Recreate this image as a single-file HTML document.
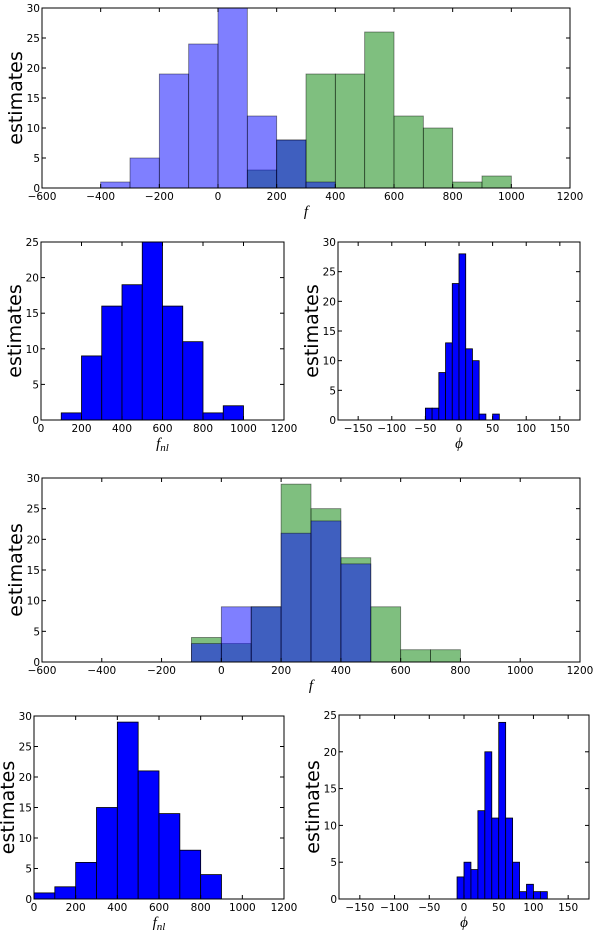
<!DOCTYPE html>
<html><head><meta charset="utf-8"><style>
html,body{margin:0;padding:0;background:#fff;}
svg{display:block;font-family:"DejaVu Sans","Liberation Sans",sans-serif;}
</style></head><body>
<svg id="fig" width="600" height="936" viewBox="0 0 600 936" xmlns="http://www.w3.org/2000/svg"></svg>
<script>
// Panel 1 data (bins of 100)
const p1BlueStarts = [-400,-300,-200,-100,0,100,200,300];
const p1BlueCounts = [1,5,19,24,30,12,8,1];
const p1GreenStarts = [100,200,300,400,500,600,700,800,900];
const p1GreenCounts = [3,8,19,19,26,12,10,1,2];
// Panel 2 data
const p2Starts = [100,200,300,400,500,600,700,800,900];
const p2Counts = [1,9,16,19,25,16,11,1,2];
// Panel 3 data (bins of 10)
const p3Starts = [-50,-40,-30,-20,-10,0,10,20,30,40,50];
const p3Counts = [2,2,8,13,23,28,12,10,1,0,1];
// Panel 4 data
const p4BlueStarts = [-100,0,100,200,300,400];
const p4BlueCounts = [3,9,9,21,23,16];
const p4GreenStarts = [-100,0,100,200,300,400,500,600,700];
const p4GreenCounts = [4,3,9,29,25,17,9,2,2];
// Panel 5 data
const p5Starts = [0,100,200,300,400,500,600,700,800];
const p5Counts = [1,2,6,15,29,21,14,8,4];
// Panel 6 data
const p6Starts = [-10,0,10,20,30,40,50,60,70,80,90,100,110];
const p6Counts = [3,5,4,12,20,11,24,11,5,1,2,1,1];
// Tick labels
const fTicks = [-600,-400,-200,0,200,400,600,800,1000,1200];
const fnlTicks = [0,200,400,600,800,1000,1200];
const phiTicks = [-150,-100,-50,0,50,100,150];
const y30Ticks = [0,5,10,15,20,25,30];
const y25Ticks = [0,5,10,15,20,25];

const NS = "http://www.w3.org/2000/svg";
const svg = document.getElementById('fig');
function mk(tag, attrs, parent){
  const e = document.createElementNS(NS, tag);
  for (const k in attrs) e.setAttribute(k, attrs[k]);
  (parent||svg).appendChild(e);
  return e;
}
function panel(cfg){
  const g = mk('g', {});
  
  
  const sx = v => cfg.x0 + (v - cfg.xmin) / (cfg.xmax - cfg.xmin) * (cfg.x1 - cfg.x0);
  const sy = v => cfg.y1 - (v - cfg.ymin) / (cfg.ymax - cfg.ymin) * (cfg.y1 - cfg.y0);
  cfg.series.forEach(s => {
    s.starts.forEach((st, i) => {
      const c = s.counts[i];
      if (!c) return;
      const r = mk('rect', {x: sx(st), y: sy(c), width: sx(st + s.w) - sx(st), height: sy(0) - sy(c),
        fill: s.color, 'fill-opacity': s.op, stroke: '#000', 'stroke-opacity': s.op < 1 ? 0.5 : 1, 'stroke-width': 0.8}, g);
      
      
    });
  });
  mk('rect', {x: cfg.x0, y: cfg.y0, width: cfg.x1 - cfg.x0, height: cfg.y1 - cfg.y0, fill: 'none', stroke: '#000', 'stroke-width': 1}, g);
  cfg.xt.forEach(t => {
    const x = sx(t);
    mk('line', {x1: x, x2: x, y1: cfg.y1, y2: cfg.y1 - 4, stroke: '#000'}, g);
    mk('line', {x1: x, x2: x, y1: cfg.y0, y2: cfg.y0 + 4, stroke: '#000'}, g);
    const tx = mk('text', {x: x, y: cfg.y1 + 12, 'font-size': 10.5, 'text-anchor': 'middle'}, g);
    tx.textContent = String(t).replace('-', '\u2212');
    
    
  });
  cfg.yt.forEach(t => {
    const y = sy(t);
    mk('line', {x1: cfg.x0, x2: cfg.x0 + 4, y1: y, y2: y, stroke: '#000'}, g);
    mk('line', {x1: cfg.x1, x2: cfg.x1 - 4, y1: y, y2: y, stroke: '#000'}, g);
    const tx = mk('text', {x: cfg.x0 - 2, y: y + 4, 'font-size': 10.5, 'text-anchor': 'end'}, g);
    tx.textContent = t;
    
    
  });
  const yl = mk('text', {x: 0, y: 0, 'font-size': 19, 'text-anchor': 'middle',
    transform: `translate(${cfg.x0 - 20},${(cfg.y0 + cfg.y1) / 2}) rotate(-90)`}, g);
  yl.textContent = 'estimates';
  
  
  const xl = mk('text', {x: (cfg.x0 + cfg.x1) / 2, y: cfg.y1 + 28, 'font-size': 15, 'font-style': 'italic',
    'font-family': '"Liberation Serif","DejaVu Serif",serif', 'text-anchor': 'middle'}, g);
  xl.innerHTML = cfg.xlabel;
  
  
}
const BL = '#0000ff', GR = '#008000';
panel({name:'panel-f-top', x0:42, x1:570, y0:8, y1:188, xmin:-600, xmax:1200, ymin:0, ymax:30, xt:fTicks, yt:y30Ticks, xlabel:'f',
  series:[{starts:p1GreenStarts, counts:p1GreenCounts, w:100, color:GR, op:0.5, label:'green'},
          {starts:p1BlueStarts, counts:p1BlueCounts, w:100, color:BL, op:0.5, label:'blue'}]});
panel({name:'panel-fnl-top', x0:41, x1:284, y0:242, y1:420, xmin:0, xmax:1200, ymin:0, ymax:25, xt:fnlTicks, yt:y25Ticks,
  xlabel:'f<tspan font-size="11" dy="3">nl</tspan>',
  series:[{starts:p2Starts, counts:p2Counts, w:100, color:BL, op:1, label:'fnl'}]});
panel({name:'panel-phi-top', x0:338, x1:580, y0:242, y1:420, xmin:-180, xmax:180, ymin:0, ymax:30, xt:phiTicks, yt:y30Ticks, xlabel:'\u03d5',
  series:[{starts:p3Starts, counts:p3Counts, w:10, color:BL, op:1, label:'phi'}]});
panel({name:'panel-f-middle', x0:42, x1:580, y0:478, y1:662, xmin:-600, xmax:1200, ymin:0, ymax:30, xt:fTicks, yt:y30Ticks, xlabel:'f',
  series:[{starts:p4GreenStarts, counts:p4GreenCounts, w:100, color:GR, op:0.5, label:'green'},
          {starts:p4BlueStarts, counts:p4BlueCounts, w:100, color:BL, op:0.5, label:'blue'}]});
panel({name:'panel-fnl-bottom', x0:34, x1:284, y0:716, y1:899, xmin:0, xmax:1200, ymin:0, ymax:30, xt:fnlTicks, yt:y30Ticks,
  xlabel:'f<tspan font-size="11" dy="3">nl</tspan>',
  series:[{starts:p5Starts, counts:p5Counts, w:100, color:BL, op:1, label:'fnl'}]});
panel({name:'panel-phi-bottom', x0:339, x1:589, y0:715, y1:899, xmin:-180, xmax:180, ymin:0, ymax:25, xt:phiTicks, yt:y25Ticks, xlabel:'\u03d5',
  series:[{starts:p6Starts, counts:p6Counts, w:10, color:BL, op:1, label:'phi'}]});
</script>
</body></html>
